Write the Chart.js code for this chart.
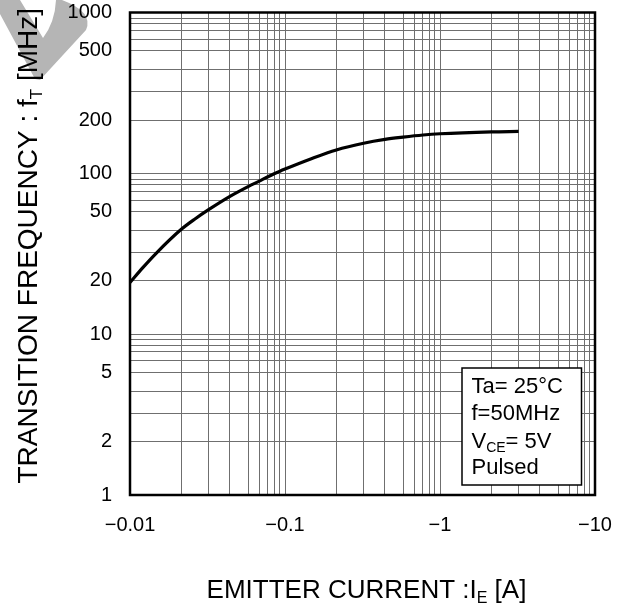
<!DOCTYPE html>
<html>
<head>
<meta charset="utf-8">
<script src="https://cdn.jsdelivr.net/npm/chart.js@4"></script>
<style>
  html, body { margin: 0; padding: 0; background: #fff; }
  #wrap { width: 628px; height: 609px; position: relative; }
</style>
</head>
<body>
<div id="wrap"><canvas id="ftChart"></canvas></div>
<script>
// emitter current magnitude [A] (axis labels carry the minus sign)
const IE_VALUES = [0.01, 0.0125, 0.015, 0.02, 0.025, 0.03, 0.04, 0.05, 0.06, 0.07, 0.08, 0.09,
  0.1, 0.15, 0.2, 0.3, 0.4, 0.5, 0.7, 1, 2, 3];
// transition frequency fT [MHz]
const FT_VALUES = [19.7, 24.7, 29.6, 40.6, 46.1, 51.7, 64.1, 76.9, 86.4, 94.2, 99.3, 103.6,
  108, 127, 144, 156.6, 163.7, 168, 172, 174.4, 178, 178.7];

const X_TICK_VALUES = [0.01, 0.1, 1, 10];
const X_TICK_LABELS = ['\u22120.01', '\u22120.1', '\u22121', '\u221210'];
const Y_TICK_VALUES = [1, 2, 5, 10, 20, 50, 100, 200, 500, 1000];
const Y_TICK_LABELS = ['1', '2', '5', '10', '20', '50', '100', '200', '500', '1000'];

const CONDITIONS = ['Ta= 25\u00B0C', 'f=50MHz', ['V', 'CE', '= 5V'], 'Pulsed'];

const FONT = '"Liberation Sans", Arial, sans-serif';

// The printed log paper is not a true log grid: where each mantissa 1..10
// sits inside a decade, as a fraction of the decade.
const DECADE_FRAC = [0, 0.331, 0.507, 0.645, 0.762, 0.834, 0.89, 0.93, 0.964, 1];

class PaperLogScale extends Chart.LogarithmicScale {
  static id = 'paperLog';
  static defaults = Chart.LogarithmicScale.defaults;

  warp(v) {
    const d = Math.floor(Math.log10(v) + 1e-9);
    const m = v / Math.pow(10, d);
    const i = Math.max(1, Math.min(Math.floor(m), 9));
    const t = m - i;
    return d + DECADE_FRAC[i - 1] + (DECADE_FRAC[i] - DECADE_FRAC[i - 1]) * t;
  }

  getPixelForValue(value) {
    if (value === undefined || value <= 0) return this.getPixelForDecimal(0);
    const lo = this.warp(this.min);
    const hi = this.warp(this.max);
    return this.getPixelForDecimal((this.warp(value) - lo) / (hi - lo));
  }

  getValueForPixel(pixel) {
    const lo = this.warp(this.min);
    const hi = this.warp(this.max);
    const w = lo + this.getDecimalForPixel(pixel) * (hi - lo);
    const d = Math.floor(w);
    const f = w - d;
    let i = 1;
    while (i < 9 && DECADE_FRAC[i] < f) i++;
    const m = i + (f - DECADE_FRAC[i - 1]) / (DECADE_FRAC[i] - DECADE_FRAC[i - 1]);
    return m * Math.pow(10, d);
  }
}
Chart.register(PaperLogScale);

// grid lines at every 1..9 step of each decade
function gridValues(min, max) {
  const out = [];
  for (let d = Math.round(Math.log10(min)); d < Math.round(Math.log10(max)); d++) {
    for (let m = 1; m < 10; m++) out.push(Number((m * Math.pow(10, d)).toPrecision(6)));
  }
  out.push(max);
  return out;
}

function labelFor(value, values, labels) {
  const i = values.findIndex(v => Math.abs(v - value) / v < 1e-6);
  return i < 0 ? '' : labels[i];
}

// draw text made of pieces, some of them subscripts
function drawRich(ctx, parts, x, y, size, align) {
  const sub = Math.round(size * 0.62);
  let total = 0;
  parts.forEach(p => {
    ctx.font = (p.sub ? sub : size) + 'px ' + FONT;
    p.w = ctx.measureText(p.t).width;
    total += p.w;
  });
  let cx = align === 'left' ? x : x - total / 2;
  parts.forEach(p => {
    ctx.font = (p.sub ? sub : size) + 'px ' + FONT;
    ctx.fillText(p.t, cx, p.sub ? y + size * 0.18 : y);
    cx += p.w;
  });
}

const decorations = {
  id: 'decorations',
  beforeDraw(chart) {
    const ctx = chart.ctx;
    ctx.save();
    ctx.fillStyle = '#fff';
    ctx.fillRect(0, 0, chart.width, chart.height);
    // grey watermark fragment in the corner
    ctx.fillStyle = '#b5b5b5';
    ctx.beginPath();
    ctx.moveTo(0, 0);
    ctx.lineTo(20, 0);
    ctx.lineTo(43, 38);
    ctx.quadraticCurveTo(55, 22, 56, 0);
    ctx.lineTo(62, 0);
    ctx.quadraticCurveTo(94, 12, 86, 30);
    ctx.lineTo(40, 80);
    ctx.lineTo(35, 79);
    ctx.lineTo(0, 14);
    ctx.closePath();
    ctx.fill();
    ctx.restore();
  },
  afterDraw(chart) {
    const ctx = chart.ctx;
    const a = chart.chartArea;
    ctx.save();
    // plot frame
    ctx.strokeStyle = '#000';
    ctx.lineWidth = 2.5;
    ctx.strokeRect(a.left, a.top, a.right - a.left, a.bottom - a.top);

    // conditions box
    const bw = 119.5, bh = 117;
    const bx = a.right - 13.5 - bw;
    const by = a.bottom - 10 - bh;
    ctx.fillStyle = '#fff';
    ctx.fillRect(bx, by, bw, bh);
    ctx.lineWidth = 1.5;
    ctx.strokeRect(bx, by, bw, bh);
    ctx.fillStyle = '#000';
    ctx.textBaseline = 'alphabetic';
    ctx.textAlign = 'left';
    const lineY = [25, 52, 80, 105.5];
    CONDITIONS.forEach((line, i) => {
      const parts = Array.isArray(line)
        ? [{ t: line[0] }, { t: line[1], sub: true }, { t: line[2] }]
        : [{ t: line }];
      drawRich(ctx, parts, bx + 9.5, by + lineY[i], 22, 'left');
    });

    // axis titles
    drawRich(ctx, [{ t: 'EMITTER CURRENT :I' }, { t: 'E', sub: true }, { t: ' [A]' }],
      (a.left + a.right) / 2 + 4, chart.height - 11, 26, 'center');
    ctx.translate(37, (a.top + a.bottom) / 2 - 8);
    ctx.rotate(-Math.PI / 2);
    drawRich(ctx, [{ t: 'TRANSITION FREQUENCY : f' }, { t: 'T', sub: true }, { t: ' [MHz]' }],
      0, 0, 28, 'center');
    ctx.restore();
  }
};

function noScalePadding(s) {
  s.paddingTop = 0;
  s.paddingBottom = 0;
  s.paddingLeft = 0;
  s.paddingRight = 0;
}

new Chart(document.getElementById('ftChart'), {
  type: 'line',
  data: {
    datasets: [{
      data: IE_VALUES.map((x, i) => ({ x: x, y: FT_VALUES[i] })),
      borderColor: '#000',
      borderWidth: 3.2,
      borderCapStyle: 'butt',
      pointRadius: 0,
      fill: false,
      cubicInterpolationMode: 'monotone'
    }]
  },
  options: {
    responsive: true,
    maintainAspectRatio: false,
    animation: false,
    layout: { padding: { left: 0, right: 33, top: 12.5, bottom: 0 } },
    plugins: { legend: { display: false }, tooltip: { enabled: false } },
    scales: {
      x: {
        type: 'paperLog',
        min: 0.01,
        max: 10,
        afterBuildTicks: s => { s.ticks = gridValues(0.01, 10).map(v => ({ value: v })); },
        afterFit: s => { s.height = 114; noScalePadding(s); },
        border: { display: false },
        grid: { color: '#6f6f6f', lineWidth: 1, drawTicks: false },
        ticks: {
          autoSkip: false,
          maxRotation: 0,
          padding: 18,
          color: '#000',
          font: { family: FONT, size: 20 },
          callback: v => labelFor(v, X_TICK_VALUES, X_TICK_LABELS)
        }
      },
      y: {
        type: 'paperLog',
        min: 1,
        max: 1000,
        afterBuildTicks: s => { s.ticks = gridValues(1, 1000).map(v => ({ value: v })); },
        afterFit: s => { s.width = 130; noScalePadding(s); },
        border: { display: false },
        grid: { color: '#6f6f6f', lineWidth: 1, drawTicks: false },
        ticks: {
          autoSkip: false,
          padding: 18,
          color: '#000',
          font: { family: FONT, size: 20 },
          callback: v => labelFor(v, Y_TICK_VALUES, Y_TICK_LABELS)
        }
      }
    }
  },
  plugins: [decorations]
});
</script>
</body>
</html>
